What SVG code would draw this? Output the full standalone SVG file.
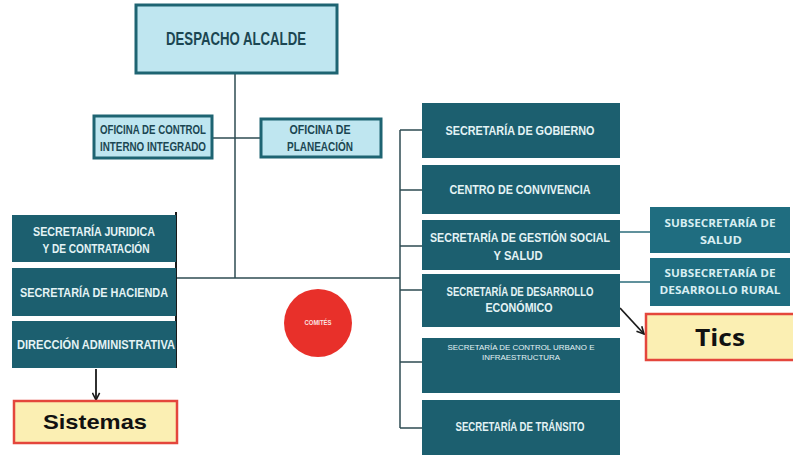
<svg xmlns="http://www.w3.org/2000/svg" width="793" height="457" viewBox="0 0 793 457">
<defs>
<marker id="arr" viewBox="0 0 10 10" refX="9" refY="5" markerWidth="9" markerHeight="9" markerUnits="userSpaceOnUse" orient="auto">
<path d="M1,1 L9,5 L1,9" fill="none" stroke="#1a1a1a" stroke-width="1.8"/>
</marker>
<style>
.light{fill:#bfe6f0;stroke:#1e6472;stroke-width:3}
.dark{fill:#1c5f6f}
.sub{fill:#1f6d80}
.yel{fill:#fbefb3;stroke:#e4463c;stroke-width:2.5}
.lt{font-family:"Liberation Sans",sans-serif;font-weight:bold;fill:#1b4652;text-anchor:middle;dominant-baseline:central}
.wt{font-family:"Liberation Sans",sans-serif;font-weight:bold;fill:#e4f3f5;text-anchor:middle;dominant-baseline:central}
.st{font-family:"Open Sans","Liberation Sans",sans-serif;font-weight:bold;fill:#d8eef2;text-anchor:middle;dominant-baseline:central}
.bk{font-family:"Liberation Sans",sans-serif;font-weight:bold;fill:#111;text-anchor:middle;dominant-baseline:central}
.ln{fill:none;stroke:#2e4b52;stroke-width:1.5}
</style>
</defs>
<rect width="793" height="457" fill="#ffffff"/>
<g id="connectors">
<path class="ln" d="M235,73 V278"/>
<path class="ln" d="M212,138 H260"/>
<path class="ln" d="M176,278 H400"/>
<path class="ln" d="M176,212 V368" style="stroke:#1a1a1a;stroke-width:2"/>
<path class="ln" d="M400,130 V428"/>
<path class="ln" d="M400,130 H422 M400,190 H422 M400,246 H422 M400,290 H422 M400,362 H422 M400,428 H422"/>
<path class="ln" d="M620,232 H650 M620,282 H650" style="stroke:#2d6d7c"/>
<path class="ln" d="M96,369 V400" style="stroke:#1a1a1a;stroke-width:1.8" marker-end="url(#arr)"/>
<path class="ln" d="M620,308 L644,334" style="stroke:#1a1a1a;stroke-width:1.8" marker-end="url(#arr)"/>
</g>
<g id="despacho">
<rect class="light" x="136" y="5" width="201" height="68"/>
<text class="lt" x="236" y="39" font-size="17.5" textLength="140" lengthAdjust="spacingAndGlyphs">DESPACHO ALCALDE</text>
</g>
<g id="control-interno">
<rect class="light" x="94" y="116" width="118" height="42"/>
<text class="lt" x="153" y="130" font-size="12" textLength="106" lengthAdjust="spacingAndGlyphs">OFICINA DE CONTROL</text>
<text class="lt" x="153" y="147" font-size="12" textLength="106" lengthAdjust="spacingAndGlyphs">INTERNO INTEGRADO</text>
</g>
<g id="planeacion">
<rect class="light" x="261" y="119" width="120" height="38"/>
<text class="lt" x="320" y="130" font-size="12" textLength="61" lengthAdjust="spacingAndGlyphs">OFICINA DE</text>
<text class="lt" x="320" y="147" font-size="12" textLength="66" lengthAdjust="spacingAndGlyphs">PLANEACIÓN</text>
</g>
<g id="juridica">
<rect class="dark" x="12" y="215" width="164" height="47"/>
<text class="wt" x="94" y="232" font-size="12.5" textLength="122" lengthAdjust="spacingAndGlyphs">SECRETARÍA JURIDICA</text>
<text class="wt" x="96" y="249" font-size="12.5" textLength="107" lengthAdjust="spacingAndGlyphs">Y DE CONTRATACIÓN</text>
</g>
<g id="hacienda">
<rect class="dark" x="12" y="268" width="164" height="48"/>
<text class="wt" x="94" y="293" font-size="12.5" textLength="148" lengthAdjust="spacingAndGlyphs">SECRETARÍA DE HACIENDA</text>
</g>
<g id="direccion">
<rect class="dark" x="12" y="321" width="164" height="47"/>
<text class="wt" x="96" y="345" font-size="12.5" textLength="158" lengthAdjust="spacingAndGlyphs">DIRECCIÓN ADMINISTRATIVA</text>
</g>
<g id="sistemas">
<rect class="yel" x="14" y="401" width="163" height="42"/>
<text class="bk" x="95" y="421" font-size="21" textLength="104" lengthAdjust="spacingAndGlyphs">Sistemas</text>
</g>
<g id="comites">
<circle cx="318" cy="323" r="34" fill="#e8302a"/>
<text class="wt" x="318" y="322" font-size="7.5" textLength="27" lengthAdjust="spacingAndGlyphs" style="fill:#fbe3e0">COMITÉS</text>
</g>
<g id="gobierno">
<rect class="dark" x="422" y="103" width="198" height="55"/>
<text class="wt" x="520" y="131" font-size="12.5" textLength="149" lengthAdjust="spacingAndGlyphs">SECRETARÍA DE GOBIERNO</text>
</g>
<g id="convivencia">
<rect class="dark" x="422" y="165" width="198" height="49"/>
<text class="wt" x="520" y="190" font-size="12.5" textLength="141" lengthAdjust="spacingAndGlyphs">CENTRO DE CONVIVENCIA</text>
</g>
<g id="gestion-social">
<rect class="dark" x="422" y="220" width="198" height="50"/>
<text class="wt" x="520" y="238" font-size="12.5" textLength="180" lengthAdjust="spacingAndGlyphs">SECRETARÍA DE GESTIÓN SOCIAL</text>
<text class="wt" x="518" y="256" font-size="12.5" textLength="49" lengthAdjust="spacingAndGlyphs">Y SALUD</text>
</g>
<g id="desarrollo-economico">
<rect class="dark" x="422" y="274" width="198" height="53"/>
<text class="wt" x="520" y="292" font-size="12.5" textLength="147" lengthAdjust="spacingAndGlyphs">SECRETARÍA DE DESARROLLO</text>
<text class="wt" x="519" y="308" font-size="12.5" textLength="67" lengthAdjust="spacingAndGlyphs">ECONÓMICO</text>
</g>
<g id="control-urbano">
<rect class="dark" x="422" y="338" width="198" height="55"/>
<text class="wt" x="521" y="347" font-size="7" textLength="147" lengthAdjust="spacingAndGlyphs" style="font-weight:normal">SECRETARÍA DE CONTROL URBANO E</text>
<text class="wt" x="521" y="357" font-size="7" textLength="78" lengthAdjust="spacingAndGlyphs" style="font-weight:normal">INFRAESTRUCTURA</text>
</g>
<g id="transito">
<rect class="dark" x="422" y="400" width="198" height="55"/>
<text class="wt" x="520" y="427" font-size="12.5" textLength="129" lengthAdjust="spacingAndGlyphs">SECRETARÍA DE TRÁNSITO</text>
</g>
<g id="sub-salud">
<rect class="sub" x="650" y="207" width="140" height="46"/>
<text class="st" x="720" y="223" font-size="10" textLength="111" lengthAdjust="spacingAndGlyphs">SUBSECRETARÍA DE</text>
<text class="st" x="721" y="240" font-size="10" textLength="42" lengthAdjust="spacingAndGlyphs">SALUD</text>
</g>
<g id="sub-rural">
<rect class="sub" x="650" y="258" width="140" height="48"/>
<text class="st" x="720" y="273" font-size="10" textLength="111" lengthAdjust="spacingAndGlyphs">SUBSECRETARÍA DE</text>
<text class="st" x="720" y="290" font-size="10" textLength="121" lengthAdjust="spacingAndGlyphs">DESARROLLO RURAL</text>
</g>
<g id="tics">
<rect class="yel" x="646" y="314" width="150" height="46"/>
<text class="bk" x="720" y="337" font-size="23" textLength="50" lengthAdjust="spacingAndGlyphs" style="font-family:'Open Sans','Liberation Sans',sans-serif">Tics</text>
</g>
</svg>
